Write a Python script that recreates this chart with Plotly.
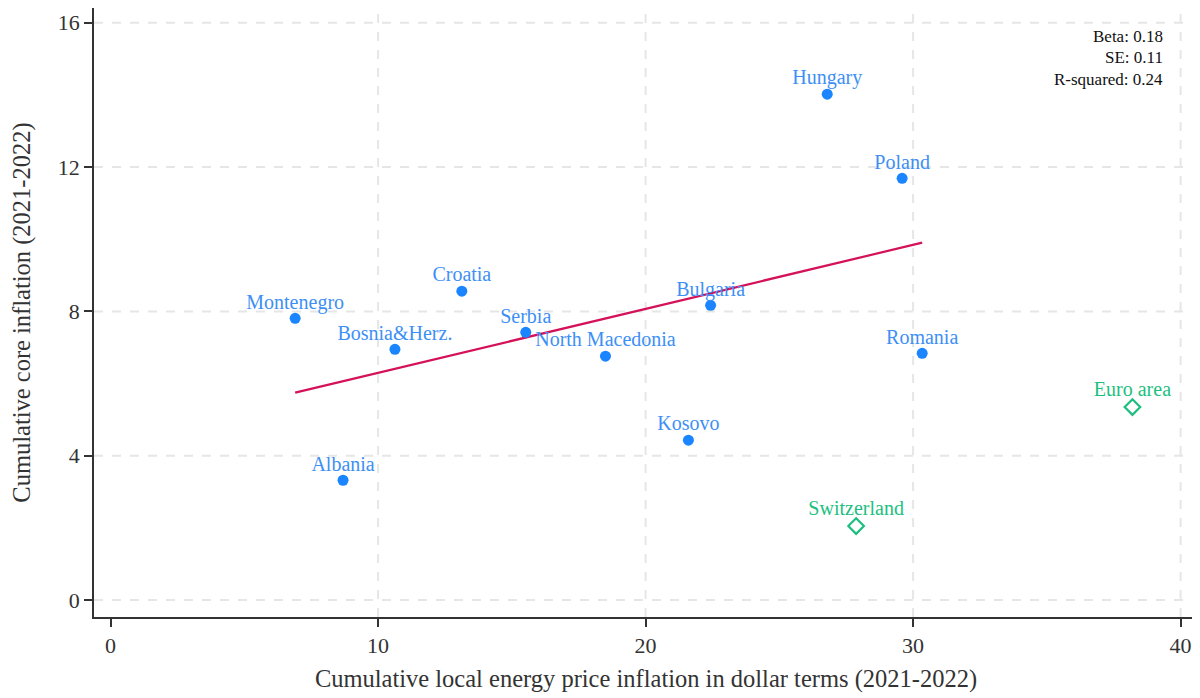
import numpy as np
import plotly.graph_objects as go

countries = ["Montenegro", "Bosnia&Herz.", "Albania", "Croatia", "Serbia", "North Macedonia",
             "Bulgaria", "Kosovo", "Hungary", "Poland", "Romania"]
energy = [6.9, 10.63, 8.69, 13.13, 15.52, 18.5, 22.43, 21.6, 26.79, 29.59, 30.34]
core = [7.81, 6.95, 3.32, 8.56, 7.42, 6.76, 8.17, 4.43, 14.02, 11.69, 6.84]

bench_names = ["Euro area", "Switzerland"]
bench_energy = [38.2, 27.87]
bench_core = [5.35, 2.05]

stats_text = ["Beta: 0.18", "SE: 0.11", "R-squared: 0.24"]

x_ticks = [0, 10, 20, 30, 40]
y_ticks = [0, 4, 8, 12, 16]

FONT = "Liberation Serif"
BLUE = "#1A85FF"
BLUE_TXT = "#3D8FF5"
GREEN = "#1DBF80"
RED = "#D41159"
GRID = "#e6e6e6"
CLEAR = "rgba(0,0,0,0)"

slope, intercept = np.polyfit(energy, core, 1)
fx = np.array([min(energy), max(energy)])
fy = slope * fx + intercept

fig = go.Figure()
fig.add_trace(go.Scatter(x=fx, y=fy, mode="lines", line=dict(color=RED, width=2.2),
                         showlegend=False, hoverinfo="skip"))
fig.add_trace(go.Scatter(x=energy, y=core, mode="markers",
                         marker=dict(color=BLUE, size=11), showlegend=False))
fig.add_trace(go.Scatter(x=energy, y=core, mode="markers+text", text=countries,
                         textposition="top center", marker=dict(size=6, color=CLEAR),
                         textfont=dict(family=FONT, size=20, color=BLUE_TXT),
                         showlegend=False, hoverinfo="skip"))
fig.add_trace(go.Scatter(x=bench_energy, y=bench_core, mode="markers",
                         marker=dict(symbol="diamond-open", color=GREEN, size=12,
                                     line=dict(width=2.2, color=GREEN)),
                         showlegend=False))
fig.add_trace(go.Scatter(x=bench_energy, y=bench_core, mode="markers+text", text=bench_names,
                         textposition="top center", marker=dict(size=8, color=CLEAR),
                         textfont=dict(family=FONT, size=20, color=GREEN),
                         showlegend=False, hoverinfo="skip"))

shapes = []
for v in x_ticks[1:]:
    shapes.append(dict(type="line", xref="x", yref="paper", x0=v, x1=v, y0=0, y1=1,
                       line=dict(color=GRID, width=2, dash="dash"), layer="below"))
for v in y_ticks:
    shapes.append(dict(type="line", xref="paper", yref="y", x0=0, x1=1, y0=v, y1=v,
                       line=dict(color=GRID, width=2, dash="dash"), layer="below"))

annotations = []
for i, t in enumerate(stats_text):
    annotations.append(dict(text=t, xref="paper", yref="paper", x=0.970, y=0.9524 - i * 0.0345,
                            xanchor="right", yanchor="middle", showarrow=False,
                            font=dict(family=FONT, size=17, color="#111111")))

axis_common = dict(showline=True, linecolor="#333333", linewidth=1.5, ticks="outside",
                   ticklen=8, tickwidth=1.5, tickcolor="#333333", showgrid=False,
                   zeroline=False, automargin=False,
                   tickfont=dict(family=FONT, size=22, color="#333333"))

# page body has an 8px margin, so the figure is sized and offset to compensate
fig.update_layout(
    width=1192, height=690,
    margin=dict(l=86, r=2, t=0, b=81),
    paper_bgcolor="white", plot_bgcolor="white",
    shapes=shapes, annotations=annotations,
    xaxis=dict(range=[-0.62, 40.65], tickvals=x_ticks,
               title=dict(text="Cumulative local energy price inflation in dollar terms (2021-2022)",
                          font=dict(family=FONT, size=24.5, color="#333333"), standoff=13),
               **axis_common),
    yaxis=dict(range=[-0.47, 16.41], tickvals=y_ticks,
               title=dict(text="Cumulative core inflation (2021-2022)",
                          font=dict(family=FONT, size=24.5, color="#333333"), standoff=22),
               **axis_common),
)

fig.write_html("out.html")
